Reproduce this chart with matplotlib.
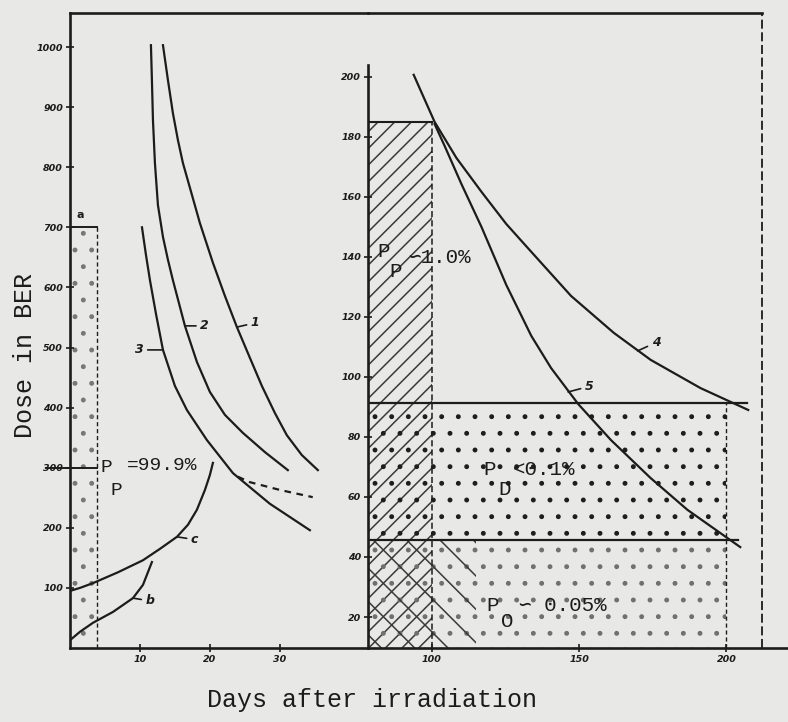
import matplotlib
matplotlib.use("Agg")
import matplotlib.pyplot as plt
from matplotlib.patches import Rectangle

# ---- left panel: early days (dose 0-1000) ----
curve1_days = [13.29, 14.0, 14.71, 15.43, 16.14, 17.43, 18.57, 20.43, 22.14,
               23.86, 25.71, 27.43, 29.29, 31.0, 33.14, 35.43]
curve1_dose = [1003, 945, 890, 845, 807, 754, 707, 641, 586,
               534, 483, 436, 391, 354, 321, 296]
curve2_days = [11.57, 11.71, 11.86, 12.14, 12.57, 13.29, 14.0, 14.71, 16.43,
               18.14, 20.0, 22.14, 24.71, 27.86, 31.14]
curve2_dose = [1003, 945, 878, 807, 737, 684, 646, 612, 536,
               476, 426, 388, 358, 326, 296]
curve3_days = [10.29, 10.86, 11.43, 12.29, 13.29, 15.0, 16.71, 19.57, 23.29,
               28.57, 34.29]
curve3_dose = [700, 654, 612, 556, 496, 436, 396, 346, 291, 240, 196]
dashed_days = [24.0, 25.7, 30.0, 34.7]
dashed_dose = [285, 276, 263, 251]
curve_c_days = [0.0, 1.43, 3.29, 6.86, 10.43, 12.86, 15.29, 16.86, 18.14,
                19.29, 20.0, 20.43]
curve_c_dose = [95, 100, 108, 126, 146, 165, 185, 205, 230, 263, 288, 308]
curve_b_days = [0.0, 1.43, 3.29, 6.14, 9.0, 10.43, 11.71]
curve_b_dose = [13, 27, 42, 60, 83, 105, 143]
rect_a_days = 3.9
rect_a_dose = 700
pp_left_dose = 300

left_yticks = [100, 200, 300, 400, 500, 600, 700, 800, 900, 1000]
left_xticks = [10, 20, 30]

# ---- right panel: later days (dose 20-200) ----
curve4_days = [93.9, 101.0, 108.4, 116.9, 125.3, 133.8, 147.3, 161.8, 174.3,
               191.2, 207.4]
curve4_dose = [200.7, 185.0, 173.0, 161.7, 151.0, 141.7, 127.0, 114.7, 105.7,
               96.3, 89.0]
curve5_days = [101.0, 104.4, 110.1, 116.9, 125.3, 133.8, 140.5, 149.7, 160.8,
               174.3, 186.8, 204.7]
curve5_dose = [184.3, 177.0, 164.3, 150.0, 130.7, 113.7, 103.0, 91.0, 79.0,
               66.3, 55.7, 43.3]
pp_top = 185
pp_day = 100
pd_top = 91.3
pd_bottom = 45.7
pd_day = 200
po_hatch_day = 115

right_yticks = [20, 40, 60, 80, 100, 120, 140, 160, 180, 200]
right_xticks = [100, 150, 200]

ink = "#1c1c1c"
paper = "#e8e8e6"
mono = ["Liberation Mono", "DejaVu Sans Mono", "DejaVu Sans"]
plt.rcParams["hatch.linewidth"] = 1.1

fig = plt.figure(figsize=(7.88, 7.22), dpi=100, facecolor=paper)
ax1 = fig.add_axes([70 / 788, 74 / 722, 298 / 788, 635 / 722])
ax2 = fig.add_axes([368 / 788, 74 / 722, 420 / 788, 635 / 722])
for ax in (ax1, ax2):
    ax.set_facecolor("none")
    for s in ax.spines.values():
        s.set_color(ink)
        s.set_linewidth(1.9)
    ax.spines["right"].set_visible(False)
    ax.tick_params(colors=ink, direction="inout", length=6, width=1.2,
                   labelsize=6.8, pad=2, top=False, right=False)

# left panel
ax1.set_xlim(0, 42.6)
ax1.set_ylim(0, 1056.6)
ax1.set_xticks(left_xticks)
ax1.set_yticks(left_yticks)
for lab in ax1.get_xticklabels() + ax1.get_yticklabels():
    lab.set_fontweight("bold")
    lab.set_fontstyle("italic")

lw = 1.6
ax1.plot(curve1_days, curve1_dose, color=ink, lw=lw)
ax1.plot(curve2_days, curve2_dose, color=ink, lw=lw)
ax1.plot(curve3_days, curve3_dose, color=ink, lw=lw)
ax1.plot(dashed_days, dashed_dose, color=ink, lw=lw, ls=(0, (3, 2.5)))
ax1.plot(curve_c_days, curve_c_dose, color=ink, lw=lw)
ax1.plot(curve_b_days, curve_b_dose, color=ink, lw=lw)

ax1.add_patch(Rectangle((0, 0), rect_a_days, rect_a_dose, facecolor="none",
                        edgecolor="#777777", hatch=".", lw=0))
ax1.plot([0, rect_a_days], [rect_a_dose, rect_a_dose], color=ink, lw=1.4)
ax1.plot([rect_a_days, rect_a_days], [0, rect_a_dose], color=ink, lw=1.0,
         ls=(0, (3, 2)))
ax1.plot([-3.5, rect_a_days], [pp_left_dose, pp_left_dose], color=ink, lw=1.4,
         clip_on=False)
ax1.text(1.4, 712, "a", fontsize=8, fontweight="bold", color=ink, ha="center",
         va="bottom")

label_kw = dict(fontsize=9, fontweight="bold", fontstyle="italic", color=ink,
                textcoords="offset points", va="center",
                arrowprops=dict(arrowstyle="-", color=ink, lw=1.2,
                                shrinkA=1, shrinkB=0))
ax1.annotate("1", xy=(23.86, 534), xytext=(10, 3), ha="left", **label_kw)
ax1.annotate("2", xy=(16.43, 536), xytext=(11, 0), ha="left", **label_kw)
ax1.annotate("3", xy=(13.29, 496), xytext=(-14, 0), ha="right", **label_kw)
ax1.annotate("c", xy=(15.29, 185), xytext=(10, -2), ha="left", **label_kw)
ax1.annotate("b", xy=(9.0, 83), xytext=(9, -2), ha="left", **label_kw)

ax1.text(4.3, 300, "P", fontsize=14, family=mono, color=ink, va="center")
ax1.text(5.8, 262, "P", fontsize=14, family=mono, color=ink, va="center")
ax1.text(8.2, 303, "=99.9%", fontsize=14, family=mono, color=ink, va="center")

# right panel
ax2.set_xlim(78.4, 220.9)
ax2.set_ylim(9.67, 221.3)
ax2.set_xticks(right_xticks)
ax2.set_yticks(right_yticks)
for lab in ax2.get_xticklabels() + ax2.get_yticklabels():
    lab.set_fontweight("bold")
    lab.set_fontstyle("italic")
x0 = 78.4
ax2.spines["left"].set_bounds(9.67, 204)
ax2.spines["top"].set_bounds(x0, 212.2)

ax2.add_patch(Rectangle((x0, 9.67), pp_day - x0, pp_top - 9.67,
                        facecolor="none", edgecolor="#3a3a3a", hatch="//", lw=0))
ax2.add_patch(Rectangle((x0, pd_bottom), pd_day - x0, pd_top - pd_bottom,
                        facecolor="none", edgecolor="#1e1e1e", hatch=".", lw=0))
ax2.add_patch(Rectangle((x0, 9.67), pd_day - x0, pd_bottom - 9.67,
                        facecolor="none", edgecolor="#707070", hatch=".", lw=0))
ax2.add_patch(Rectangle((x0, 9.67), po_hatch_day - x0, pd_bottom - 9.67,
                        facecolor="none", edgecolor="#3a3a3a", hatch="\\", lw=0))

ax2.plot([x0, pp_day], [pp_top, pp_top], color=ink, lw=1.5)
ax2.plot([pp_day, pp_day], [9.67, pp_top], color=ink, lw=1.1, ls=(0, (4, 2)))
ax2.plot([x0, 207], [pd_top, pd_top], color=ink, lw=1.6)
ax2.plot([x0, 204], [pd_bottom, pd_bottom], color=ink, lw=1.6)
ax2.plot([pd_day, pd_day], [9.67, pd_top], color=ink, lw=1.0, ls=(0, (3, 2)))
ax2.plot([212.2, 212.2], [9.67, 221.3], color=ink, lw=1.3, ls=(0, (5, 2)))

ax2.plot(curve4_days, curve4_dose, color=ink, lw=lw)
ax2.plot(curve5_days, curve5_dose, color=ink, lw=lw)
ax2.annotate("4", xy=(169.9, 108.7), xytext=(10, 6), ha="left", **label_kw)
ax2.annotate("5", xy=(146.3, 95.0), xytext=(12, 4), ha="left", **label_kw)

txt_kw = dict(fontsize=15, family=mono, color=ink, va="center")
ax2.text(81.5, 141.7, "P", **txt_kw)
ax2.text(85.5, 135, "P", **txt_kw)
ax2.text(92.0, 139.7, "\u223d1.0%", **txt_kw)
ax2.text(117.5, 69, "P", **txt_kw)
ax2.text(122.5, 62.5, "D", **txt_kw)
ax2.text(127.5, 69, "<0.1%", **txt_kw)
ax2.text(118.5, 24, "P", **txt_kw)
ax2.text(123.5, 18.5, "O", **txt_kw)
ax2.text(129.5, 24, "\u223d 0.05%", **txt_kw)

fig.text(372 / 788, 1 - 700 / 722, "Days after irradiation", fontsize=18,
         family=mono, color=ink, ha="center", va="center")
fig.text(25 / 788, 1 - 355 / 722, "Dose in BER", fontsize=18, family=mono,
         color=ink, ha="center", va="center", rotation=90)

fig.savefig("out.png", dpi=100, facecolor=paper)
